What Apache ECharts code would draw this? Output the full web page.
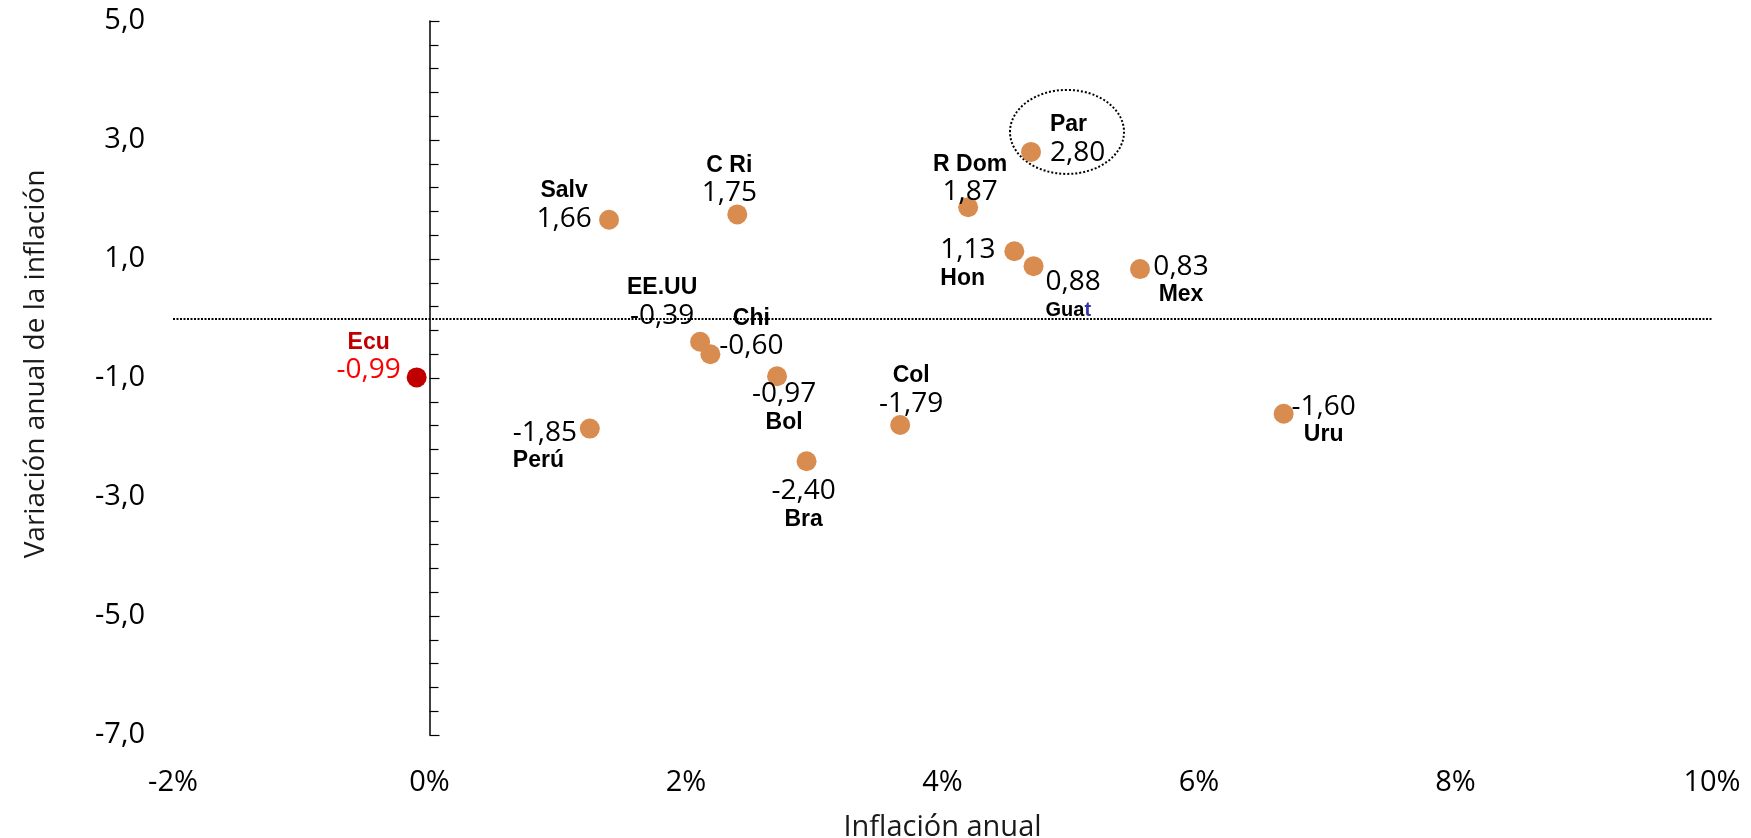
<!DOCTYPE html>
<html>
<head>
<meta charset="utf-8">
<title>Inflación anual vs variación anual</title>
<script src="https://cdn.jsdelivr.net/npm/echarts@6/dist/echarts.min.js"></script>
<style>
html, body { margin: 0; padding: 0; background: #fff; }
#chart { width: 1751px; height: 838px; }
</style>
</head>
<body>
<div id="chart"></div>
<script>
// datos: inflación anual (%) y variación anual de la inflación
const countries = ['Ecu', 'Salv', 'C Ri', 'R Dom', 'Par', 'Hon', 'Guat', 'Mex', 'EE.UU', 'Chi', 'Bol', 'Col', 'Perú', 'Bra', 'Uru']
const inflation = [-0.10, 1.40, 2.40, 4.20, 4.69, 4.56, 4.71, 5.54, 2.11, 2.19, 2.71, 3.67, 1.25, 2.94, 6.66]
const variation = [-0.99, 1.66, 1.75, 1.87, 2.80, 1.13, 0.88, 0.83, -0.39, -0.60, -0.97, -1.79, -1.85, -2.40, -1.60]
const xTicks = [-2, 0, 2, 4, 6, 8, 10]
const yTicks = [-7, -5, -3, -1, 1, 3, 5]

// where each label sits around its dot (nv = name above value, vn = value above name)
const labelPos = {
  'Ecu': { align: 'center', offset: [-48, -21], order: 'nv' },
  'Salv': { align: 'center', offset: [-45, -15], order: 'nv' },
  'C Ri': { align: 'center', offset: [-8, -35], order: 'nv' },
  'R Dom': { align: 'center', offset: [2, -29], order: 'nv' },
  'Par': { align: 'left', offset: [19, -13], order: 'nv' },
  'Hon': { align: 'left', offset: [-74, 13], order: 'vn' },
  'Guat': { align: 'left', offset: [12, 30], order: 'vn' },
  'Mex': { align: 'center', offset: [41, 12], order: 'vn' },
  'EE.UU': { align: 'center', offset: [-38, -40], order: 'nv' },
  'Chi': { align: 'center', offset: [41, -22], order: 'nv' },
  'Bol': { align: 'center', offset: [7, 32], order: 'vn' },
  'Col': { align: 'center', offset: [11, -35], order: 'nv' },
  'Perú': { align: 'left', offset: [-77, 18], order: 'vn' },
  'Bra': { align: 'center', offset: [-3, 44], order: 'vn' },
  'Uru': { align: 'center', offset: [40, 7], order: 'vn' }
}

function comma(v, d) {
  return v.toFixed(d).replace('.', ',')
}

let chart = echarts.init(document.getElementById('chart'))

let points = countries.map(function (c, i) {
  let lp = labelPos[c]
  let red = c === 'Ecu'
  let nameTxt = red ? '{nr|' + c + '}' : (c === 'Guat' ? '{g|Gua}{gt|t}' : '{n|' + c + '}')
  let valTxt = red ? '{vr|' + comma(variation[i], 2) + '}' : '{v|' + comma(variation[i], 2) + '}'
  return {
    name: c,
    value: [inflation[i], variation[i]],
    itemStyle: red ? { color: '#C00000' } : undefined,
    label: {
      show: true,
      position: 'inside',
      align: lp.align,
      verticalAlign: 'middle',
      offset: lp.offset,
      formatter: lp.order === 'nv' ? nameTxt + '\n' + valTxt : valTxt + '\n' + nameTxt
    }
  }
})

const nameFont = { fontFamily: 'Liberation Sans, Arial, sans-serif', fontWeight: 'bold', fontSize: 23, lineHeight: 28 }
const valFont = { fontFamily: 'Open Sans, sans-serif', fontSize: 28, lineHeight: 28 }

chart.setOption({
  animation: false,
  backgroundColor: '#fff',
  grid: { left: 173, right: 39, top: 21, bottom: 103, outerBoundsMode: 'none' },
  xAxis: {
    type: 'value',
    min: xTicks[0],
    max: xTicks[xTicks.length - 1],
    interval: xTicks[1] - xTicks[0],
    name: 'Inflación anual',
    nameLocation: 'middle',
    nameGap: 78,
    nameTextStyle: { fontFamily: 'Open Sans, sans-serif', fontSize: 29, color: '#1a1a1a', verticalAlign: 'top' },
    axisLine: { show: false, onZero: false },
    axisTick: { show: false },
    splitLine: { show: false },
    axisLabel: {
      margin: 33,
      fontFamily: 'Open Sans, sans-serif',
      fontSize: 29,
      color: '#000',
      formatter: function (v) { return v + '%' }
    }
  },
  yAxis: [
    {
      // labels and title on the left
      type: 'value',
      min: yTicks[0],
      max: yTicks[yTicks.length - 1],
      interval: yTicks[1] - yTicks[0],
      name: 'Variación anual de la inflación',
      nameLocation: 'middle',
      nameGap: 123,
      nameMoveOverlap: false,
      nameTextStyle: { fontFamily: 'Open Sans, sans-serif', fontSize: 28, color: '#1a1a1a', padding: [0, 0, 0, 28] },
      axisLine: { show: false, onZero: false },
      axisTick: { show: false },
      splitLine: { show: false },
      axisLabel: {
        margin: 28,
        fontFamily: 'Open Sans, sans-serif',
        fontSize: 29,
        color: '#000',
        formatter: function (v) { return comma(v, 1) }
      }
    },
    {
      // vertical line with ticks at 0%
      type: 'value',
      position: 'left',
      min: yTicks[0],
      max: yTicks[yTicks.length - 1],
      interval: yTicks[1] - yTicks[0],
      axisLine: { show: true, onZero: true, lineStyle: { color: '#000', width: 1.5 } },
      axisTick: { show: true, inside: true, length: 10, lineStyle: { color: '#000', width: 1.2 } },
      minorTick: { show: true, splitNumber: 5, length: 9, lineStyle: { color: '#000', width: 1.2 } },
      axisLabel: { show: false },
      splitLine: { show: false }
    }
  ],
  series: [
    {
      type: 'scatter',
      symbolSize: 20,
      itemStyle: { color: '#D98C50', opacity: 1 },
      label: {
        color: '#000',
        rich: {
          n: Object.assign({ color: '#000' }, nameFont),
          nr: Object.assign({ color: '#C00000' }, nameFont),
          g: Object.assign({}, nameFont, { color: '#000', fontSize: 20 }),
          gt: Object.assign({}, nameFont, { color: '#3333AA', fontSize: 20 }),
          v: Object.assign({ color: '#000' }, valFont),
          vr: Object.assign({ color: '#FF0000' }, valFont)
        }
      },
      markLine: {
        silent: true,
        symbol: 'none',
        label: { show: false },
        lineStyle: { type: [2, 1.5], color: '#000', width: 2 },
        data: [{ yAxis: 0 }]
      },
      data: points
    }
  ]
})

// dotted ellipse around Paraguay
let pi = countries.indexOf('Par')
let pp = chart.convertToPixel({ seriesIndex: 0 }, [inflation[pi], variation[pi]])
chart.setOption({
  graphic: [{
    type: 'ellipse',
    shape: { cx: pp[0] + 36, cy: pp[1] - 20, rx: 57, ry: 42 },
    style: { fill: 'none', stroke: '#000', lineWidth: 2, lineDash: [2, 2] }
  }]
})
</script>
</body>
</html>
